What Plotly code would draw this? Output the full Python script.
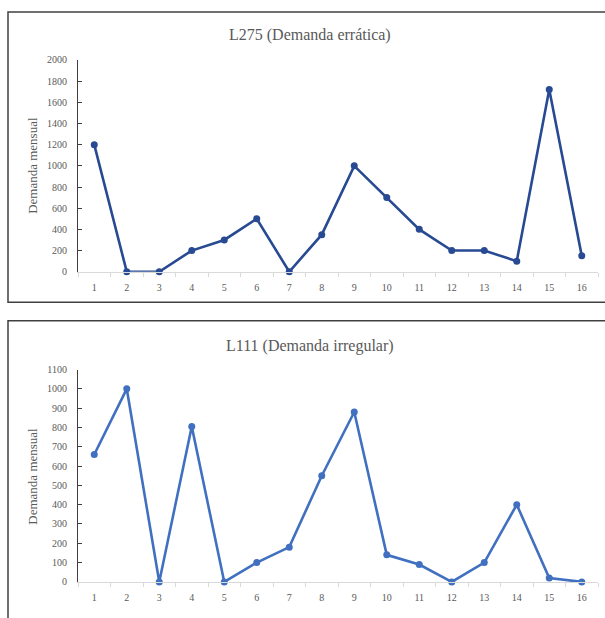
import plotly.graph_objects as go

periods = [str(i) for i in range(1, 17)]
l275_values = [1200, 0, 0, 200, 300, 500, 0, 350, 1000, 700, 400, 200, 200, 100, 1720, 150]
l111_values = [660, 1000, 0, 805, 0, 100, 180, 550, 880, 140, 90, 0, 100, 400, 20, 0]
titles = ["L275 (Demanda errática)", "L111 (Demanda irregular)"]
y_title = "Demanda mensual"
top_ticks = list(range(0, 2001, 200))
bottom_ticks = list(range(0, 1101, 100))

W, H = 605, 618
FONT = "Liberation Serif"
GRAY = "#595959"

def py(p):
    return 1 - p / H

def px(p):
    return p / W

fig = go.Figure()
fig.add_trace(go.Scatter(x=periods, y=l275_values, mode="lines+markers",
                         line=dict(color="#284A92", width=2.6),
                         marker=dict(size=7, color="#284A92"),
                         cliponaxis=False, xaxis="x", yaxis="y"))
fig.add_trace(go.Scatter(x=periods, y=l111_values, mode="lines+markers",
                         line=dict(color="#4070BF", width=2.6),
                         marker=dict(size=7, color="#4070BF"),
                         cliponaxis=False, xaxis="x2", yaxis="y2"))

xdom = [px(78), px(598)]
xcommon = dict(type="category", domain=xdom, range=[-0.5, 15.5], showgrid=False, showline=True,
               linecolor="#d9d9d9", linewidth=1, ticks="outside", tickson="boundaries",
               ticklen=4, tickcolor="#d9d9d9", ticklabelstandoff=6,
               tickfont=dict(family=FONT, size=10, color=GRAY), fixedrange=True)
ycommon = dict(showgrid=False, showline=True, linecolor="#404040", linewidth=1,
               ticks="inside", ticklen=4, tickcolor="#404040", zeroline=False,
               ticklabelstandoff=8, tickfont=dict(family=FONT, size=10, color=GRAY))

fig.update_layout(
    width=W, height=H, margin=dict(l=0, r=0, t=0, b=0),
    paper_bgcolor="white", plot_bgcolor="white", showlegend=False,
    xaxis=dict(**xcommon, anchor="y"),
    yaxis=dict(**ycommon, domain=[py(271), py(55)], range=[0, 2000],
               tickvals=top_ticks, anchor="x"),
    xaxis2=dict(**xcommon, anchor="y2"),
    yaxis2=dict(**ycommon, domain=[py(587.3), py(370.7)], range=[0, 1100],
                tickvals=bottom_ticks, anchor="x2"),
)

# panel borders
fig.add_shape(type="rect", xref="paper", yref="paper",
              x0=px(8), x1=px(620), y0=py(302), y1=py(6),
              line=dict(color="#404040", width=1.5))
fig.add_shape(type="rect", xref="paper", yref="paper",
              x0=px(8), x1=px(620), y0=py(640), y1=py(321),
              line=dict(color="#404040", width=1.5))

# titles
for t, yc in zip(titles, [30, 347]):
    fig.add_annotation(text=t, xref="paper", yref="paper", x=px(309.5), y=py(yc),
                       showarrow=False, xanchor="center", yanchor="middle",
                       font=dict(family=FONT, size=16, color=GRAY))
for yc in [163, 480]:
    fig.add_annotation(text=y_title, xref="paper", yref="paper", x=px(33), y=py(yc),
                       showarrow=False, xanchor="center", yanchor="middle", textangle=-90,
                       font=dict(family=FONT, size=13, color=GRAY))

fig.write_html("out.html", config={"displayModeBar": False},
               post_script="document.body.style.margin='0';document.body.style.overflow='hidden';")
